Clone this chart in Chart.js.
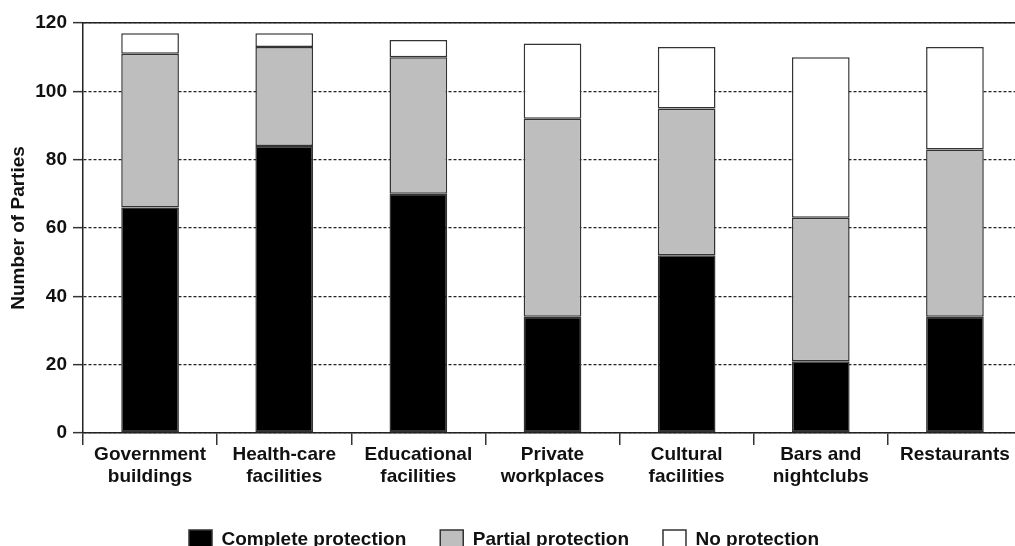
<!DOCTYPE html>
<html>
<head>
<meta charset="utf-8">
<script src="https://cdn.jsdelivr.net/npm/chart.js@4"></script>
<style>
  html, body { margin: 0; padding: 0; background: #fff; overflow: hidden; }
  #wrap { width: 1024px; height: 559px; }
</style>
</head>
<body>
<div id="wrap"><canvas id="protectionChart" width="1024" height="559"></canvas></div>
<script>
const categories = [
  ['Government', 'buildings'],
  ['Health-care', 'facilities'],
  ['Educational', 'facilities'],
  ['Private', 'workplaces'],
  ['Cultural', 'facilities'],
  ['Bars and', 'nightclubs'],
  'Restaurants'
];
const completeProtection = [66, 84, 70, 34, 52, 21, 34];
const partialProtection = [45, 29, 40, 58, 43, 42, 49];
const noProtection = [6, 4, 5, 22, 18, 47, 30];
const yTicks = [0, 20, 40, 60, 80, 100, 120];

Chart.defaults.font.family = "'Liberation Sans', Arial, sans-serif";
Chart.defaults.font.weight = 'bold';
Chart.defaults.font.size = 19;
Chart.defaults.color = '#111';

// nudge the legend a little left, like the original
const legendShift = {
  id: 'legendShift',
  afterLayout(chart) {
    chart.legend.left -= 7;
    chart.legend.right -= 7;
  }
};

function bar(label, data, color) {
  return {
    label: label,
    data: data,
    backgroundColor: color,
    borderColor: '#333',
    borderWidth: 1.5,
    borderSkipped: false,
    barPercentage: 0.43,
    categoryPercentage: 1
  };
}

new Chart(document.getElementById('protectionChart'), {
  type: 'bar',
  data: {
    labels: categories,
    datasets: [
      bar('Complete protection', completeProtection, '#000'),
      bar('Partial protection', partialProtection, '#bebebe'),
      bar('No protection', noProtection, '#fff')
    ]
  },
  options: {
    responsive: false,
    animation: false,
    devicePixelRatio: 1,
    layout: { padding: { top: 23, right: 2, left: 0, bottom: 0 } },
    plugins: {
      tooltip: { enabled: false },
      legend: {
        position: 'bottom',
        labels: { boxWidth: 23, boxHeight: 19, padding: 34, color: '#111', font: { size: 19, weight: 'bold' } }
      }
    },
    scales: {
      x: {
        stacked: true,
        grid: { offset: true, drawOnChartArea: false, tickLength: 12, color: '#333', tickColor: '#333', lineWidth: 1.5 },
        border: { color: '#222', width: 1.5 },
        ticks: { autoSkip: false, maxRotation: 0, padding: -2, font: { size: 19, weight: 'bold', lineHeight: 1.2 } },
        afterFit: (s) => { s.height = 63; }
      },
      x2: {
        position: 'top',
        grid: { drawOnChartArea: false, drawTicks: false },
        border: { color: '#222', width: 1.5 },
        ticks: { display: false },
        afterFit: (s) => { s.height = 0; }
      },
      y: {
        stacked: true,
        min: 0,
        max: 120,
        afterBuildTicks: (s) => { s.ticks = yTicks.map((v) => ({ value: v })); },
        ticks: { padding: 6, font: { size: 19, weight: 'bold' } },
        grid: { color: '#222', lineWidth: 1.3, tickLength: 10, tickColor: '#333', tickWidth: 1.5 },
        border: { color: '#222', width: 1.5, dash: [3, 2] },
        title: {
          display: true,
          text: 'Number of Parties',
          padding: { top: 7, bottom: 0 },
          font: { size: 19, weight: 'bold' },
          color: '#111'
        },
        afterFit: (s) => { s.width = 83; }
      }
    }
  },
  plugins: [legendShift]
});
</script>
</body>
</html>
